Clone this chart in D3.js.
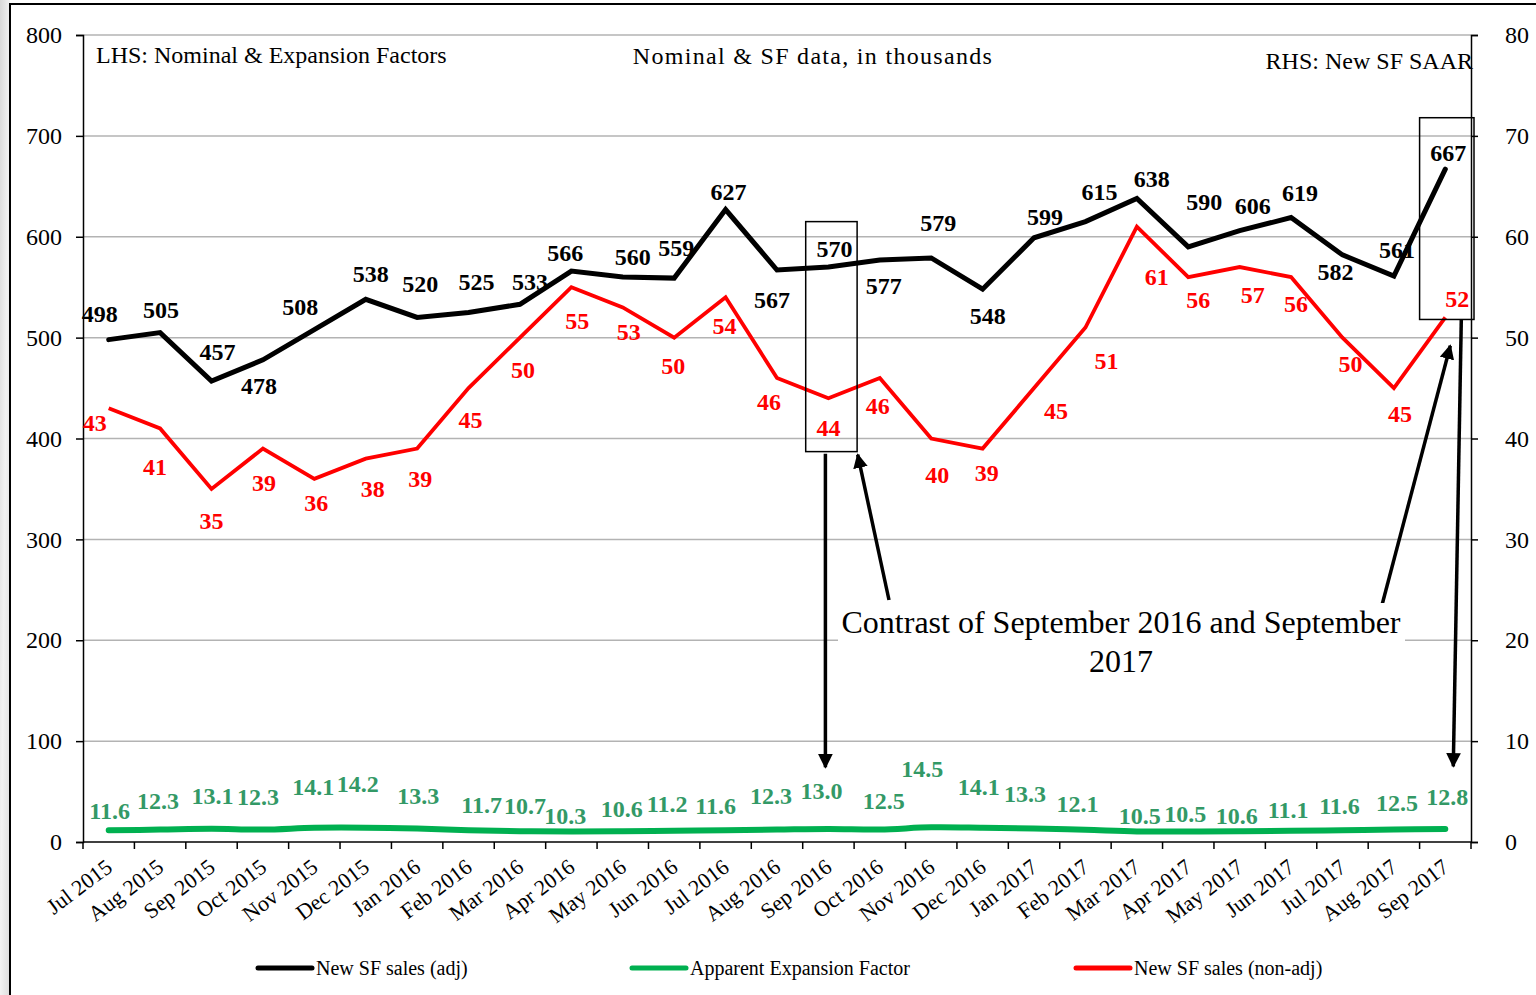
<!DOCTYPE html>
<html lang="en">
<head>
<meta charset="UTF-8">
<title>New SF sales</title>
<script src="https://d3js.org/d3.v7.min.js"></script>
<style>
    body { margin: 0; padding: 0; background: #fff; overflow: hidden; }
    svg text { font-family: 'Liberation Serif', 'Times New Roman', serif; }
    .tick-lbl { font-size: 24px; fill: #000; }
    .xlbl { font-size: 22px; fill: #000; }
    .val { font-size: 24px; font-weight: bold; }
    .note { font-size: 24px; fill: #000; }
    .legend text { font-size: 20px; fill: #000; }
</style>
</head>
<body>
<div id="chart"></div>
<script>
    const months = ["Jul 2015", "Aug 2015", "Sep 2015", "Oct 2015", "Nov 2015", "Dec 2015",
        "Jan 2016", "Feb 2016", "Mar 2016", "Apr 2016", "May 2016", "Jun 2016",
        "Jul 2016", "Aug 2016", "Sep 2016", "Oct 2016", "Nov 2016", "Dec 2016",
        "Jan 2017", "Feb 2017", "Mar 2017", "Apr 2017", "May 2017", "Jun 2017",
        "Jul 2017", "Aug 2017", "Sep 2017"];

    // New SF sales (adj), LHS
    const salesAdj = [498, 505, 457, 478, 508, 538, 520, 525, 533, 566, 560, 559, 627, 567,
        570, 577, 579, 548, 599, 615, 638, 590, 606, 619, 582, 561, 667];
    // New SF sales (non-adj), RHS
    const salesNonAdj = [43, 41, 35, 39, 36, 38, 39, 45, 50, 55, 53, 50, 54, 46,
        44, 46, 40, 39, 45, 51, 61, 56, 57, 56, 50, 45, 52];
    // Apparent Expansion Factor, LHS
    const expansion = [11.6, 12.3, 13.1, 12.3, 14.1, 14.2, 13.3, 11.7, 10.7, 10.3, 10.6, 11.2,
        11.6, 12.3, 13.0, 12.5, 14.5, 14.1, 13.3, 12.1, 10.5, 10.5, 10.6, 11.1, 11.6, 12.5, 12.8];

    const leftTicks = [0, 100, 200, 300, 400, 500, 600, 700, 800];
    const rightTicks = [0, 10, 20, 30, 40, 50, 60, 70, 80];

    // label nudges (px) so labels sit roughly where the original put them
    const adjNudge = [[-9,-26],[1,-23],[6,-29],[-4,26],[-14,-23],[5,-26],[3,-34],[8,-31],[10,-23],
        [-6,-18],[10,-21],[2,-31],[3,-18],[-5,30],[6,-18],[4,26],[7,-35],[5,26],[11,-21],[14,-30],
        [15,-20],[16,-45],[13,-25],[9,-25],[-7,17],[3,-26],[3,-17]];
    const nonAdjNudge = [[-14,14],[-5,38],[0,32],[1,34],[2,24],[7,30],[3,30],[2,32],[3,32],[6,33],
        [6,24],[-1,28],[-1,28],[-8,24],[0,29],[-2,28],[6,36],[4,24],[22,23],[21,33],[20,50],
        [10,22],[13,28],[5,26],[8,26],[6,26],[12,-19]];
    const expNudge = [[1,-20],[-2,-29],[1,-33],[-5,-33],[-1,-41],[-8,-44],[1,-33],[13,-26],[5,-26],
        [-6,-16],[-1,-23],[-7,-27],[-10,-25],[-6,-34],[-7,-38],[4,-29],[-9,-59],[-4,-41],[-9,-35],
        [-8,-26],[3,-16],[-3,-18],[-3,-16],[-3,-21],[-3,-25],[3,-27],[2,-32]];

    const W = 1536, H = 995;
    const plot = { left: 83, right: 1471, top: 35, bottom: 842 };

    const svg = d3.select("#chart").append("svg")
        .attr("width", W).attr("height", H);

    // grey photo strip on the far left, outside the frame
    const defs = svg.append("defs");
    const strip = defs.append("linearGradient").attr("id", "strip")
        .attr("x1", "0%").attr("y1", "0%").attr("x2", "100%").attr("y2", "100%");
    strip.append("stop").attr("offset", "0%").attr("stop-color", "#d8d8d8");
    strip.append("stop").attr("offset", "50%").attr("stop-color", "#f2f2f2");
    strip.append("stop").attr("offset", "100%").attr("stop-color", "#dcdcdc");
    svg.append("rect").attr("x", 0).attr("y", 0).attr("width", 10).attr("height", H)
        .attr("fill", "url(#strip)");
    defs.append("marker").attr("id", "arrow").attr("viewBox", "0 0 10 10")
        .attr("refX", 9).attr("refY", 5).attr("markerWidth", 4.2).attr("markerHeight", 4.2)
        .attr("markerUnits", "strokeWidth").attr("orient", "auto")
        .append("path").attr("d", "M0,0 L10,5 L0,10 Z").attr("fill", "#000");

    // frame
    svg.append("rect").attr("x", 10).attr("y", 4).attr("width", W).attr("height", H)
        .attr("fill", "#fff").attr("stroke", "#000").attr("stroke-width", 2);

    const x = d3.scaleBand().domain(months).range([plot.left, plot.right]).padding(0);
    const cx = m => x(m) + x.bandwidth() / 2;
    const yL = d3.scaleLinear().domain([0, 800]).range([plot.bottom, plot.top]);
    const yR = d3.scaleLinear().domain([0, 80]).range([plot.bottom, plot.top]);

    // gridlines
    svg.append("g").selectAll("line").data(leftTicks.filter(d => d > 0)).join("line")
        .attr("x1", plot.left).attr("x2", plot.right)
        .attr("y1", d => yL(d)).attr("y2", d => yL(d))
        .attr("stroke", "#b3b3b3").attr("stroke-width", 1.5);

    // left axis
    const gl = svg.append("g").attr("transform", `translate(${plot.left},0)`)
        .call(d3.axisLeft(yL).tickValues(leftTicks).tickSize(7).tickPadding(14));
    gl.selectAll("text").attr("class", "tick-lbl").attr("font-family", null).attr("font-size", null);
    gl.selectAll("line, path").attr("stroke", "#000").attr("stroke-width", 1.5);

    // right axis
    const gr = svg.append("g").attr("transform", `translate(${plot.right},0)`)
        .call(d3.axisRight(yR).tickValues(rightTicks).tickSize(7).tickPadding(27));
    gr.selectAll("text").attr("class", "tick-lbl").attr("font-family", null).attr("font-size", null);
    gr.selectAll("line, path").attr("stroke", "#000").attr("stroke-width", 1.5);

    // bottom axis: ticks at band edges, labels rotated
    const gx = svg.append("g").attr("transform", `translate(0,${plot.bottom})`);
    gx.append("line").attr("x1", plot.left).attr("x2", plot.right)
        .attr("stroke", "#000").attr("stroke-width", 1.5);
    gx.selectAll(".edge").data(months.map(m => x(m)).concat([plot.right])).join("line")
        .attr("class", "edge").attr("x1", d => d).attr("x2", d => d)
        .attr("y1", 0).attr("y2", 7).attr("stroke", "#000").attr("stroke-width", 1.5);
    gx.selectAll(".xlbl").data(months).join("text")
        .attr("class", "xlbl")
        .attr("text-anchor", "end")
        .attr("transform", d => `translate(${cx(d) + 5},${28}) rotate(-37)`)
        .text(d => d);

    // lines
    const lineAdj = d3.line().x((d, i) => cx(months[i])).y(d => yL(d));
    const lineNonAdj = d3.line().x((d, i) => cx(months[i])).y(d => yR(d));
    const lineExp = d3.line().x((d, i) => cx(months[i])).y(d => yL(d)).curve(d3.curveCatmullRom);

    svg.append("path").datum(expansion).attr("d", lineExp)
        .attr("fill", "none").attr("stroke", "#00b050").attr("stroke-width", 6)
        .attr("stroke-linecap", "round");
    svg.append("path").datum(salesNonAdj).attr("d", lineNonAdj)
        .attr("fill", "none").attr("stroke", "#ff0000").attr("stroke-width", 3.8);
    svg.append("path").datum(salesAdj).attr("d", lineAdj)
        .attr("fill", "none").attr("stroke", "#000").attr("stroke-width", 5)
        .attr("stroke-linecap", "round");

    // value labels
    function labels(data, yScale, nudge, color, fmt) {
        svg.append("g").selectAll("text").data(data).join("text")
            .attr("class", "val").attr("fill", color).attr("text-anchor", "middle")
            .attr("x", (d, i) => cx(months[i]) + nudge[i][0])
            .attr("y", (d, i) => yScale(d) + nudge[i][1])
            .attr("dy", "0.35em")
            .text(fmt);
    }
    labels(salesAdj, yL, adjNudge, "#000", d => d);
    labels(salesNonAdj, yR, nonAdjNudge, "#ff0000", d => d);
    labels(expansion, yL, expNudge, "#339966", d3.format(".1f"));

    // header notes
    svg.append("text").attr("class", "note").attr("x", 96).attr("y", 63)
        .text("LHS: Nominal & Expansion Factors");
    svg.append("text").attr("class", "note").attr("x", 813).attr("y", 64)
        .attr("text-anchor", "middle").attr("letter-spacing", "1.3px")
        .text("Nominal & SF data, in thousands");
    svg.append("text").attr("class", "note").attr("x", 1473).attr("y", 69)
        .attr("text-anchor", "end").text("RHS: New SF SAAR");

    // highlight boxes around Sep 2016 and Sep 2017
    const sep16 = "Sep 2016", sep17 = "Sep 2017";
    svg.append("rect").attr("x", x(sep16) + 3).attr("y", yL(615))
        .attr("width", x.bandwidth()).attr("height", yL(387) - yL(615))
        .attr("fill", "none").attr("stroke", "#000").attr("stroke-width", 1.5);
    svg.append("rect").attr("x", x(sep17)).attr("y", yL(718))
        .attr("width", x.bandwidth() + 3).attr("height", yL(518) - yL(718))
        .attr("fill", "none").attr("stroke", "#000").attr("stroke-width", 1.5);

    // arrows
    const arrows = [
        [cx(sep16) - 3, yL(385), cx(sep16) - 3, yL(74)],
        [889, 600, x(sep16) + 55, yL(384)],
        [1382, 605, cx(sep17) + 5, yL(492)],
        [cx(sep17) + 16, yL(518), cx(sep17) + 8, yL(75)]
    ];
    svg.append("g").selectAll("line").data(arrows).join("line")
        .attr("x1", d => d[0]).attr("y1", d => d[1]).attr("x2", d => d[2]).attr("y2", d => d[3])
        .attr("stroke", "#000").attr("stroke-width", 3.5)
        .attr("marker-end", "url(#arrow)");

    // callout text
    svg.append("rect").attr("x", 838).attr("y", 603).attr("width", 567).attr("height", 78)
        .attr("fill", "#fff");
    const call = svg.append("text").attr("x", 1121).attr("y", 633)
        .attr("text-anchor", "middle").attr("font-size", 32).attr("fill", "#000");
    call.append("tspan").attr("x", 1121).text("Contrast of September 2016 and September");
    call.append("tspan").attr("x", 1121).attr("dy", 39).text("2017");

    // legend
    const legendItems = [
        { name: "New SF sales (adj)", color: "#000", x: 258 },
        { name: "Apparent Expansion Factor", color: "#00b050", x: 632 },
        { name: "New SF sales (non-adj)", color: "#ff0000", x: 1076 }
    ];
    const lg = svg.append("g").attr("class", "legend");
    const li = lg.selectAll("g").data(legendItems).join("g")
        .attr("transform", d => `translate(${d.x},968)`);
    li.append("line").attr("x1", 0).attr("x2", 54).attr("stroke", d => d.color)
        .attr("stroke-width", 5).attr("stroke-linecap", "round");
    li.append("text").attr("x", 58).attr("dy", "0.35em").text(d => d.name);
</script>
</body>
</html>
